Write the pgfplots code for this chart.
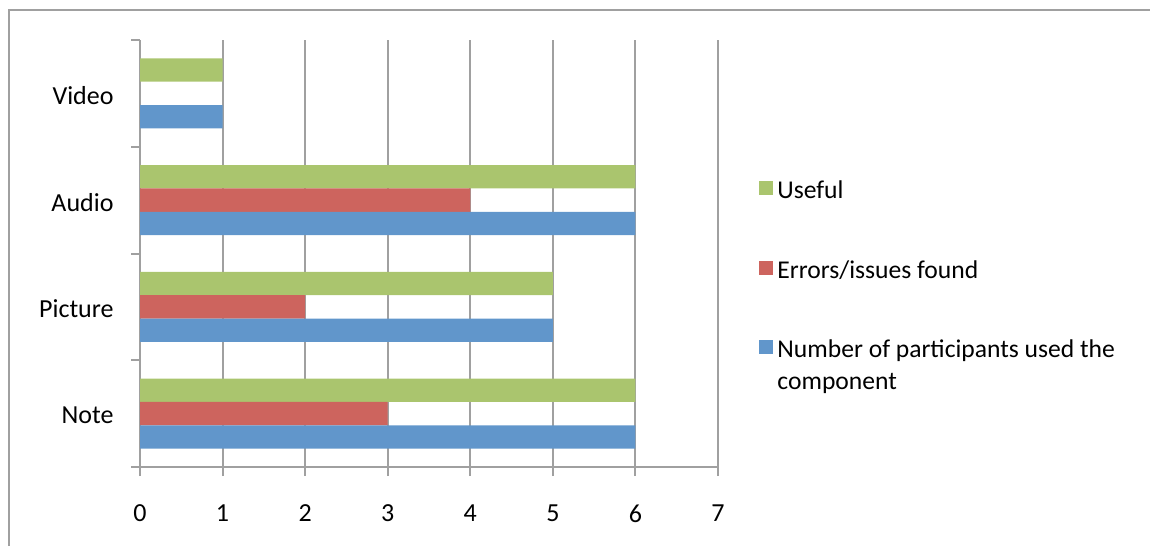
\documentclass[border=0pt]{standalone}
\usepackage{fontspec}
\setmainfont{Carlito}
\usepackage{pgfplots}
\pgfplotsset{compat=1.18}
\definecolor{cblue}{RGB}{97,150,203}
\definecolor{cred}{RGB}{205,100,94}
\definecolor{cgreen}{RGB}{170,197,110}
\definecolor{cgrid}{RGB}{160,160,160}
\begin{document}
\begin{tikzpicture}
\path[use as bounding box] (0,0) rectangle (575pt,-273pt);
\draw[cgrid, line width=1.3pt] (4.5pt,-273pt) -- (4.5pt,-5pt) -- (575pt,-5pt);
\begin{axis}[
  at={(70pt,-233.5pt)}, anchor=south west,
  scale only axis, width=289pt, height=213.5pt,
  xmin=0, xmax=7, ymin=-0.5, ymax=3.5,
  axis x line*=bottom, axis y line*=left,
  axis line style={cgrid, line width=1pt, -},
  xtick={0,1,2,3,4,5,6,7}, xmajorgrids,
  grid style={cgrid, line width=1pt},
  ytick={-0.5,0.5,1.5,2.5,3.5}, yticklabels={,,,,,},
  extra y ticks={0,1,2,3},
  extra y tick labels={Note,Picture,Audio,Video},
  extra y tick style={major tick length=0pt, yticklabel style={anchor=east, xshift=-9.7pt, yshift=-1pt}},
  tick align=outside, major tick length=4.5pt,
  tick style={cgrid, line width=1pt},
  font=\fontsize{13}{15.6}\selectfont,
  xticklabel style={yshift=-11pt},
  /pgf/number format/assume math mode=true,
  xbar, bar width=11.7pt,
  legend cell align=left,
  legend image code/.code={\fill[#1] (0pt,-2pt) rectangle (7pt,5pt);},
  legend style={at={(1.0606,0.6906)}, anchor=north west, draw=none, fill=none,
    row sep=25.5pt, column sep=0pt,
    nodes={text width=180pt, align=flush left, font=\fontsize{12.8}{16}\selectfont}},
]
\addplot[fill=cgreen, draw=none, bar shift=11.7pt] coordinates {(6,0) (5,1) (6,2) (1,3)};
\addlegendentry{Useful}
\addplot[fill=cred, draw=none, bar shift=0pt] coordinates {(3,0) (2,1) (4,2)};
\addlegendentry{Errors/issues found}
\addplot[fill=cblue, draw=none, bar shift=-11.7pt] coordinates {(6,0) (5,1) (6,2) (1,3)};
\addlegendentry{Number of participants used the component}
\end{axis}
\end{tikzpicture}
\end{document}
